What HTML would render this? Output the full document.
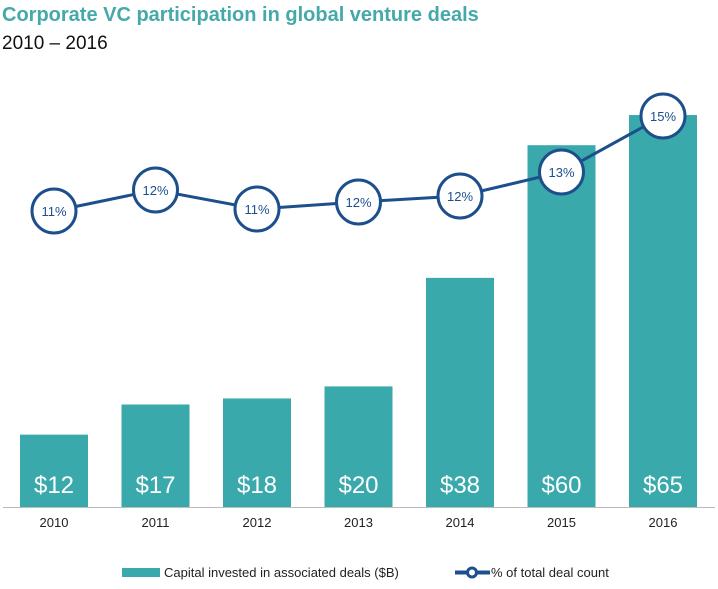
<!DOCTYPE html>
<html><head><meta charset="utf-8"><style>
body{margin:0;background:#fff;font-family:"Liberation Sans",sans-serif}
</style></head><body>
<svg id="chart" width="718" height="584" xmlns="http://www.w3.org/2000/svg" font-family="Liberation Sans, sans-serif">
<text x="2" y="21" font-size="20" font-weight="bold" fill="#45a9a9">Corporate VC participation in global venture deals</text>
<text x="2" y="49" font-size="19" fill="#111">2010 – 2016</text>
<g id="bars"></g>
<line x1="3" x2="715" y1="507.5" y2="507.5" stroke="#bbb" stroke-width="1"/>
<g id="xticks"></g>
<g id="line"></g>
<rect x="122" y="568" width="38" height="9" fill="#3aa9ab"/>
<text x="164" y="577" font-size="13" fill="#222">Capital invested in associated deals ($B)</text>
<line x1="455" x2="490" y1="572.5" y2="572.5" stroke="#1d4f8c" stroke-width="4"/>
<circle cx="472" cy="572.5" r="4.5" fill="#fff" stroke="#1d4f8c" stroke-width="3"/>
<text x="491" y="577" font-size="13" fill="#222">% of total deal count</text>
</svg>
<script>
const years=["2010","2011","2012","2013","2014","2015","2016"];
const capital=[12,17,18,20,38,60,65];
const capitalLabels=["$12","$17","$18","$20","$38","$60","$65"];
const pct=[11.0,11.84,11.08,11.36,11.6,12.56,14.8];
const pctLabels=["11%","12%","11%","12%","12%","13%","15%"];
const NS="http://www.w3.org/2000/svg";
const x0=54, step=101.5, base=507, kB=6.03;
const xS=i=>x0+i*step;
const yB=v=>base-v*kB;
const yP=v=>116+(14.8-v)*25;
function mk(t,a,p){const e=document.createElementNS(NS,t);for(const k in a)e.setAttribute(k,a[k]);p.appendChild(e);return e;}
const gb=document.getElementById('bars'),gx=document.getElementById('xticks'),gl=document.getElementById('line');
years.forEach((y,i)=>{
 const r=mk('rect',{x:xS(i)-34,y:yB(capital[i]),width:68,height:base-yB(capital[i]),fill:'#3aa9ab'},gb);
 
 
 const t=mk('text',{x:xS(i),y:base-14,'text-anchor':'middle','font-size':24,fill:'#fff'},gb);
 t.textContent=capitalLabels[i];
 
 
 const xt=mk('text',{x:xS(i),y:527,'text-anchor':'middle','font-size':13,fill:'#222'},gx);
 xt.textContent=y;
 
 
});
const pl=mk('polyline',{points:pct.map((v,i)=>xS(i)+','+yP(v)).join(' '),fill:'none',stroke:'#1d4f8c','stroke-width':3},gl);


pct.forEach((v,i)=>{
 const c=mk('circle',{cx:xS(i),cy:yP(v),r:22,fill:'#fff',stroke:'#1d4f8c','stroke-width':3},gl);
 
 
 const t=mk('text',{x:xS(i),y:yP(v)+5,'text-anchor':'middle','font-size':13,fill:'#1d4f8c'},gl);
 t.textContent=pctLabels[i];
 
 
});
</script>
</body></html>
